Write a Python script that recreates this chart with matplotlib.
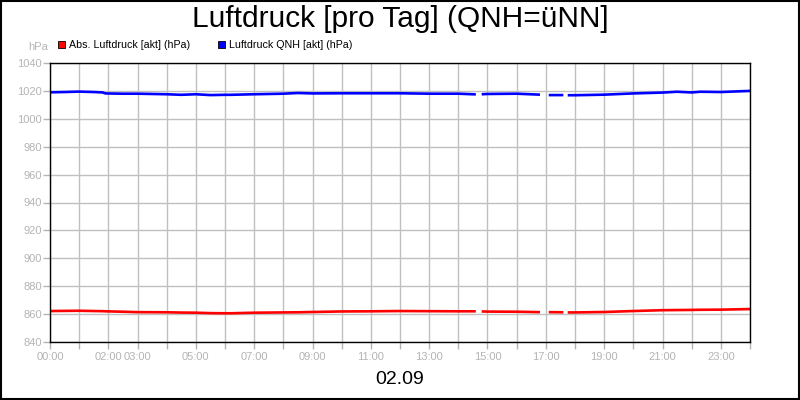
import numpy as np
import matplotlib
matplotlib.use("Agg")
import matplotlib.pyplot as plt
from matplotlib.patches import Rectangle

nan = np.nan

# hours of day, NaN entries mark gaps in the record
hours = [0, 0.5, 1, 1.5, 1.8, 1.9, 2.5, 3, 4, 4.5, 5, 5.5, 6, 6.2, 7, 8, 8.5, 9,
         10, 11, 12, 13, 14, 14.6, 14.7, 14.8, 15, 16, 16.8, 16.95, 17.1, 17.6,
         17.68, 17.75, 18, 19, 20, 21, 21.5, 22, 22.3, 23, 24]

qnh = [1019.0, 1019.2, 1019.5, 1019.2, 1018.9, 1018.2, 1018.0, 1018.0, 1017.6,
       1017.2, 1017.6, 1017.0, 1017.2, 1017.2, 1017.6, 1018.0, 1018.5, 1018.2,
       1018.3, 1018.3, 1018.3, 1018.0, 1018.0, 1017.5, nan, 1017.6, 1017.8,
       1018.0, 1017.3, nan, 1017.0, 1017.0, nan, 1016.9, 1016.9, 1017.3,
       1018.2, 1018.8, 1019.4, 1018.9, 1019.4, 1019.2, 1020.0]

absp = [862.2, 862.3, 862.4, 862.2, 862.1, 862.0, 861.7, 861.4, 861.3, 861.1,
        861.0, 860.7, 860.6, 860.6, 861.0, 861.2, 861.3, 861.5, 861.9, 862.0,
        862.2, 862.1, 862.0, 862.0, nan, 861.9, 861.8, 861.7, 861.4, nan,
        861.4, 861.3, nan, 861.2, 861.2, 861.5, 862.2, 862.8, 862.9, 863.0,
        863.1, 863.2, 863.6]

x_labels = {0: "00:00", 2: "02:00", 3: "03:00", 5: "05:00", 7: "07:00",
            9: "09:00", 11: "11:00", 13: "13:00", 15: "15:00", 17: "17:00",
            19: "19:00", 21: "21:00", 23: "23:00"}
y_ticks = list(range(840, 1041, 20))

plt.rcParams['font.family'] = ['Liberation Sans', 'DejaVu Sans']
gray = "#b4b4b4"

fig = plt.figure(figsize=(8, 4), dpi=100)
ax = fig.add_axes([50 / 800, 58 / 400, 700 / 800, 279 / 400])

ax.plot(hours, absp, color="#ff0000", lw=1.9, solid_capstyle="butt")
ax.plot(hours, qnh, color="#0000ff", lw=1.9, solid_capstyle="butt")

ax.set_xlim(0, 24)
ax.set_ylim(840, 1040)
ax.set_xticks(range(0, 25))
ax.set_xticklabels([x_labels.get(h, "") for h in range(0, 25)])
ax.set_yticks(y_ticks)
ax.grid(True, color="#c0c0c0", lw=1.0)
ax.set_axisbelow(True)
ax.tick_params(axis="both", colors=gray, labelsize=8, length=5, width=1,
               labelcolor=gray)
ax.tick_params(axis="x", pad=2)
ax.tick_params(axis="y", pad=1)
for s in ax.spines.values():
    s.set_color("black")
    s.set_linewidth(1.0)

fig.text(0.5, 0.953, "Luftdruck [pro Tag] (QNH=üNN]", ha="center", va="center",
         fontsize=21.5)
fig.text(0.5, 0.052, "02.09", ha="center", va="center", fontsize=14)
fig.text(48 / 800, 1 - 47 / 400, "hPa", ha="right", va="center", fontsize=8,
         color=gray)

# legend
for x0, col, label in [(58, "#ff0000", "Abs. Luftdruck [akt] (hPa)"),
                       (218, "#0000ff", "Luftdruck QNH [akt] (hPa)")]:
    fig.patches.append(Rectangle((x0 / 800, 1 - 48 / 400), 7 / 800, 7 / 400,
                                 transform=fig.transFigure, facecolor=col,
                                 edgecolor="black", lw=0.6))
    fig.text((x0 + 11) / 800, 1 - 44.5 / 400, label, ha="left", va="center",
             fontsize=7.7)

fig.patches.append(Rectangle((0.0008, 0.0015), 0.998, 0.997,
                             transform=fig.transFigure, fill=False,
                             edgecolor="black", lw=1.5))

fig.savefig("out.png", dpi=100)
